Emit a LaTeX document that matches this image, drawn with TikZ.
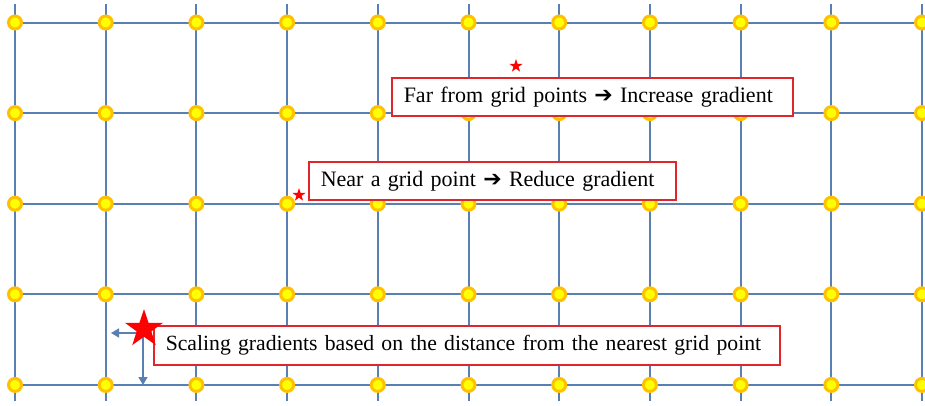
\documentclass[tikz,border=0pt]{standalone}
\usepackage{fontspec}
\setmainfont{Liberation Serif}
\newfontfamily\symfont{DejaVu Sans}
\usetikzlibrary{shapes.geometric,arrows.meta}
\definecolor{gridblue}{HTML}{5A7FB2}
\definecolor{dotring}{HTML}{FFC000}
\definecolor{dotfill}{HTML}{FFFF00}
\definecolor{boxred}{HTML}{E0262B}
\tikzset{
  gridline/.style={draw=gridblue,line width=2pt},
  gpt/.style={circle,fill=dotfill,draw=dotring,line width=3pt,minimum size=13pt,inner sep=0pt},
  labelbox/.style={draw=boxred,line width=1.5pt,fill=white,anchor=north west,inner xsep=12pt,inner ysep=0pt,align=left,font=\fontsize{22}{24}\selectfont},
  redstar/.style={star,star points=5,star point ratio=2.6,fill=red,draw=none,inner sep=0pt},
  movearrow/.style={draw=gridblue,line width=1.5pt,-{Triangle[length=8pt,width=9pt]}}
}
\newcommand{\heavyarrow}{{\symfont\bfseries ➔}}
\begin{document}
\begin{tikzpicture}[x=1pt,y=-1pt]
\useasboundingbox (0,0) rectangle (925,405);
% grid lines
\foreach \i in {0,...,10}{
  \draw[gridline] ({15+90.7*\i},4) -- ({15+90.7*\i},401);
}
\foreach \j in {0,...,4}{
  \draw[gridline] (15,{22.5+90.6*\j}) -- (925,{22.5+90.6*\j});
}
% grid points
\foreach \i in {0,...,10}{
  \foreach \j in {0,...,4}{
    \node[gpt] (p\i-\j) at ({15+90.7*\i},{22.5+90.6*\j}) {};
  }
}
% boxes
\node[labelbox,text width=377pt,minimum height=38pt] (far) at (391,77) {\mbox{Far from grid points \heavyarrow\ Increase gradient}};
\node[labelbox,text width=343pt,minimum height=38pt] (near) at (308,161) {\mbox{Near a grid point \heavyarrow\ Reduce gradient}};
\node[labelbox,text width=602pt,minimum height=39pt,font=\fontsize{21.7}{24}\selectfont] (scale) at (153,325) {\mbox{Scaling gradients based on the distance from the nearest grid point}};
% stars
\node[redstar,minimum size=14pt] (s1) at (516,66) {};
\node[redstar,minimum size=14pt] (s2) at (299,195) {};
\coordinate (s3c) at (144,329);
% arrows
\coordinate (leftend) at (111,333);
\coordinate (downend) at (143,385);
\draw[movearrow] (138,333) coordinate (a1) -- (leftend);
\draw[movearrow] (143,337) coordinate (a2) -- (downend);
\node[redstar,minimum size=40pt] (s3) at (s3c) {};
\end{tikzpicture}
\end{document}
